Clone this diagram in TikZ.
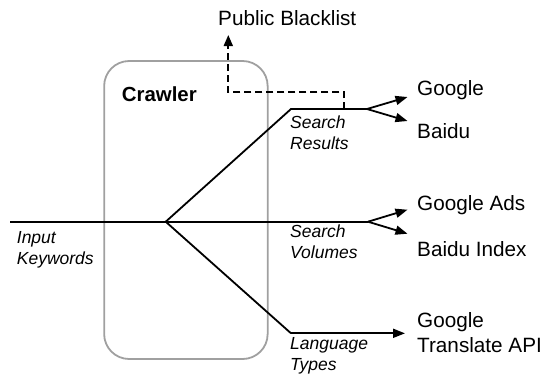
\documentclass[tikz,border=0pt]{standalone}
\usepackage{fontspec}
\setmainfont{Liberation Sans}
\usetikzlibrary{arrows.meta}
\definecolor{boxgray}{RGB}{160,160,160}
\begin{document}
\begin{tikzpicture}[x=1pt,y=-1pt,
  wire/.style={line width=1.8pt, black},
  arr/.style={wire, -{Triangle[length=12pt,width=9pt]}},
  blkline/.style={wire, dash pattern=on 7pt off 4pt, -{Triangle[length=11pt,width=9pt]}},
  lbl/.style={anchor=base west, align=left, inner sep=0pt, font=\fontsize{20.7}{25}\selectfont},
  ital/.style={anchor=base west, align=left, inner sep=0pt, font=\fontsize{17.5}{21}\selectfont\itshape},
  crawlbox/.style={draw=boxgray, line width=1.8pt, rounded corners=25pt, minimum width=163.5pt, minimum height=298pt, inner sep=0pt}
]
\useasboundingbox (0,0) rectangle (543,376);
% crawler box
\node[crawlbox] (box) at (185.9,210) {};
\node[anchor=base west, inner sep=0pt, font=\fontsize{20.4}{24}\selectfont\bfseries] (crawler) at (121.7,101.7) {Crawler};
% text nodes (multi-line nodes: base = last line)
\node[lbl] (pb) at (218,25) {Public Blacklist};
\node[lbl] (google) at (417,95) {Google};
\node[lbl] (baidu) at (417,138.3) {Baidu};
\node[lbl] (gads) at (417,210) {Google Ads};
\node[lbl] (bidx) at (417,256.7) {Baidu Index};
\node[lbl] (gt) at (417,352.7) {Google\\Translate API};
\node[ital] (ik) at (16.7,264) {Input\\Keywords};
\node[ital] (sr) at (290,149) {Search\\Results};
\node[ital] (sv) at (290,258.3) {Search\\Volumes};
\node[ital] (lt) at (290,370.7) {Language\\Types};
% coordinates
\coordinate (kin) at (10,221.7);
\coordinate (hub) at (165.7,221.7);
\coordinate (sr1) at (291,109);
\coordinate (sr2) at (367,109);
\coordinate (sv2) at (368,221.7);
\coordinate (lt1) at (291,333.3);
\coordinate (ds) at (344,109);
\coordinate (pbt) at (228.3,35);
\coordinate (tg) at (407.5,97);
\coordinate (tb) at (407.5,121);
\coordinate (tga) at (407.5,209.7);
\coordinate (tbi) at (407.5,233.7);
% lines
\draw[wire] (kin) -- (sv2);
\draw[wire] (hub) -- (sr1) -- (sr2);
\draw[wire] (hub) -- (lt1);
\draw[arr] (sr2) -- (tg);
\draw[arr] (sr2) -- (tb);
\draw[arr] (sv2) -- (tga);
\draw[arr] (sv2) -- (tbi);
\draw[arr, shorten >=12pt] (lt1) -- (lt1 -| gt.west);
\draw[blkline] (ds) -- ++(0,-17.3) -| (pbt);
\end{tikzpicture}
\end{document}
